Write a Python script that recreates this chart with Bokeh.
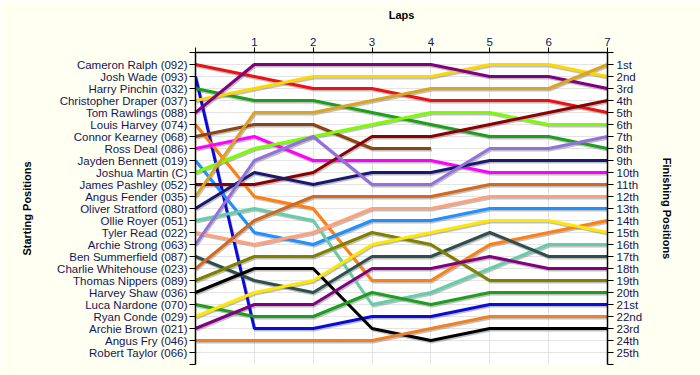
from bokeh.plotting import figure
from bokeh.models import Range1d, LinearAxis, FixedTicker
from bokeh.embed import file_html
from bokeh.resources import INLINE

NaN = float("nan")

laps = [0, 1, 2, 3, 4, 5, 6, 7]

starting_labels = [
    "Cameron Ralph (092)", "Josh Wade (093)", "Harry Pinchin (032)",
    "Christopher Draper (037)", "Tom Rawlings (088)", "Louis Harvey (074)",
    "Connor Kearney (068)", "Ross Deal (086)", "Jayden Bennett (019)",
    "Joshua Martin (C)", "James Pashley (052)", "Angus Fender (035)",
    "Oliver Stratford (080)", "Ollie Royer (051)", "Tyler Read (022)",
    "Archie Strong (063)", "Ben Summerfield (087)", "Charlie Whitehouse (023)",
    "Thomas Nippers (089)", "Harvey Shaw (036)", "Luca Nardone (070)",
    "Ryan Conde (029)", "Archie Brown (021)", "Angus Fry (046)",
    "Robert Taylor (066)",
]

finishing_labels = [
    "1st", "2nd", "3rd", "4th", "5th", "6th", "7th", "8th", "9th", "10th",
    "11th", "12th", "13th", "14th", "15th", "16th", "17th", "18th", "19th",
    "20th", "21st", "22nd", "23rd", "24th", "25th",
]

colors = [
    "#EE1111", "#0A0ADC", "#1E9E1E", "#FFD700", "#800080", "#FF8010",
    "#8B4513", "#FF00FF", "#1E90FF", "#7CFC00", "#8B0000", "#DAA520",
    "#191970", "#66CDAA", "#FFA07A", "#9370DB", "#2F4F4F", "#D2691E",
    "#808000", "#000000", "#1E9E1E", "#FFE800", "#800080", "#F08020",
]

# positions per lap, drivers in starting order (first 24 starters)
lap0 = [1, 2, 3, 4, 5, 6, 7, 8, 9, 10, 11, 12, 13, 14, 15, 16, 17, 18, 19, 20, 21, 22, 23, 24]
lap1 = [2, 23, 4, 3, 1, 12, 6, 7, 15, 8, 11, 5, 10, 13, 16, 9, 19, 14, 17, 18, 22, 20, 21, 24]
lap2 = [3, 23, 4, 2, 1, 13, 6, 9, 16, 7, 10, 5, 11, 14, 15, 7, 20, 12, 17, 18, 22, 19, 21, 24]
lap3 = [3, 22, 5, 2, 1, 19, 8, 9, 14, 6, 7, 4, 10, 21, 13, 11, 17, 12, 15, 23, 20, 16, 18, 24]
lap4 = [4, 22, 6, 2, 1, 19, 8, 9, 14, 5, 7, 3, 10, 20, 13, 11, 17, 12, 16, 24, 21, 15, 18, 23]
lap5 = [4, 21, 7, 1, 2, 16, NaN, 10, 13, 5, 6, 3, 9, 18, 12, 8, 15, 11, 19, 23, 20, 14, 17, 22]
lap6 = [4, 21, 7, 1, 2, 15, NaN, 10, 13, 6, 5, 3, 9, 16, 12, 8, 17, 11, 19, 23, 20, 14, 18, 22]
lap7 = [5, 21, 8, 2, 3, 14, NaN, 10, 13, 6, 4, 1, 9, 16, 12, 7, 17, 11, 19, 23, 20, 15, 18, 22]

all_laps = [lap0, lap1, lap2, lap3, lap4, lap5, lap6, lap7]
n_rows = len(starting_labels)

TEXT = "#14145A"
FONT = "Liberation Sans"

p = figure(
    width=700, height=375,
    output_backend="svg", toolbar_location=None,
    x_range=Range1d(0, 7), y_range=Range1d(n_rows + 1, 0),
    x_axis_location="above",
    min_border_left=195, min_border_right=93,
    min_border_top=52, min_border_bottom=11,
    background_fill_color="#FFFFFF",
    border_fill_color="#FFFFF2",
)
p.outline_line_color = None

# pixel -> data conversion for shadow offset
dx = 1.0 * 7 / 412
dy = 1.5 * (n_rows + 1) / 312

for i in range(len(lap0)):
    ys = [lap[i] for lap in all_laps]
    p.line([x + dx for x in laps], [y + dy for y in ys],
           line_color="#707070", line_alpha=0.45, line_width=3)
for i in range(len(lap0)):
    ys = [lap[i] for lap in all_laps]
    p.line(laps, ys, line_color=colors[i], line_width=3)

row_ticks = list(range(0, n_rows + 2))

# top axis
xa = p.xaxis[0]
xa.ticker = FixedTicker(ticks=laps)
xa.major_label_overrides = {0: ""}
xa.axis_label = "Laps"

# left axis
ya = p.yaxis[0]
ya.ticker = FixedTicker(ticks=row_ticks)
ov = {0: "", n_rows + 1: ""}
for k, name in enumerate(starting_labels):
    ov[k + 1] = name
ya.major_label_overrides = ov
ya.axis_label = "Starting Positions"

# right axis
ra = LinearAxis(ticker=FixedTicker(ticks=row_ticks))
ov2 = {0: "", n_rows + 1: ""}
for k, lab in enumerate(finishing_labels):
    ov2[k + 1] = lab
ra.major_label_overrides = ov2
ra.axis_label = "Finishing Positions"
p.add_layout(ra, "right")

for ax in [xa, ya, ra]:
    ax.minor_tick_line_color = None
    ax.major_tick_in = 0
    ax.major_tick_out = 6
    ax.axis_line_width = 1.5
    ax.axis_line_color = "black"
    ax.major_tick_line_color = "black"
    ax.major_label_text_font = FONT
    ax.major_label_text_font_size = "11.5px"
    ax.major_label_text_color = TEXT
    ax.axis_label_text_font = FONT
    ax.axis_label_text_font_size = "11px"
    ax.axis_label_text_font_style = "bold"
    ax.axis_label_text_color = "black"

xa.major_tick_out = 5
xa.major_label_standoff = 2
xa.axis_label_standoff = 14
ya.major_label_standoff = 2
ya.axis_label_standoff = 21
ra.major_label_standoff = 3
ra.axis_label_standoff = 16

p.xgrid.grid_line_color = "#E4E4E4"
p.ygrid.grid_line_color = "#E4E4E4"
p.xgrid.grid_line_width = 1
p.ygrid.grid_line_width = 1

open("out.html", "w").write(file_html(p, INLINE))
